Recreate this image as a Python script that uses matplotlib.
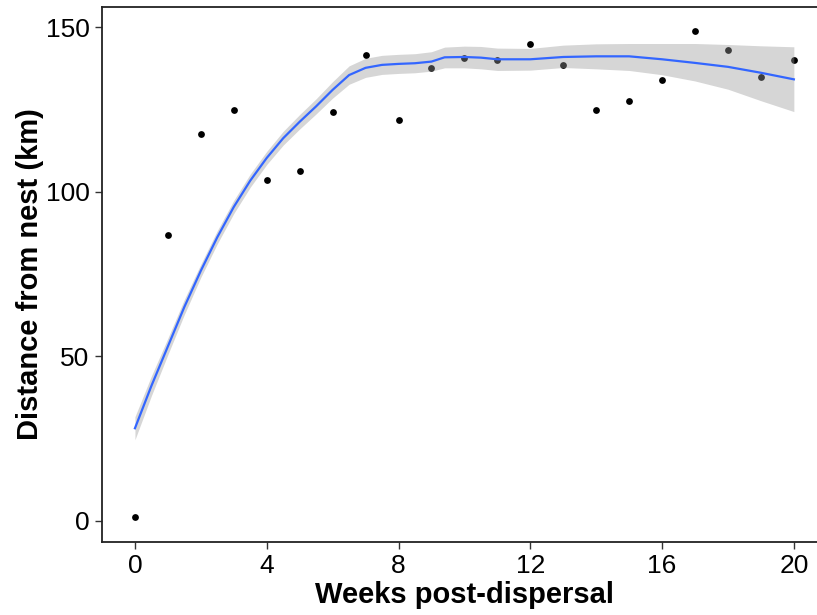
import matplotlib
matplotlib.use("Agg")
import matplotlib.pyplot as plt
import numpy as np

plt.rcParams['font.family'] = ['Liberation Sans', 'DejaVu Sans']

# weekly points
weeks = np.arange(0, 21)
distance_km = np.array([1.1, 86.8, 117.7, 124.9, 103.7, 106.3, 124.2, 141.5, 121.8, 137.7,
                        140.8, 140.0, 144.8, 138.5, 124.9, 127.5, 133.9, 149.0, 143.0, 135.0,
                        140.0])

# smoother: fit and 95% band
smooth_week = [0, 0.5, 1, 1.5, 2, 2.5, 3, 3.5, 4, 4.5, 5, 5.5, 6, 6.5, 7, 7.5, 8, 8.5,
               9, 9.4, 10, 10.5, 11, 12, 13, 14, 15, 16, 17, 18, 19, 20]
smooth_fit = [28.1, 41.0, 53.0, 65.0, 76.0, 86.2, 95.4, 103.4, 110.3, 116.3, 121.3, 126.0,
              131.0, 135.5, 137.7, 138.6, 138.9, 139.1, 139.6, 140.9, 141.0, 140.8, 140.3,
              140.3, 141.0, 141.2, 141.2, 140.3, 139.2, 138.0, 136.2, 134.2]
smooth_lo = [24.6, 38.0, 50.5, 62.7, 74.0, 84.2, 93.4, 101.4, 108.3, 114.2, 119.1, 123.7,
             128.5, 132.7, 134.8, 135.7, 136.0, 136.2, 136.7, 137.7, 137.7, 137.4, 136.9,
             137.0, 137.8, 137.4, 136.9, 135.6, 133.7, 131.2, 127.7, 124.4]
smooth_hi = [31.6, 44.0, 55.5, 67.3, 78.0, 88.2, 97.4, 105.4, 112.3, 118.4, 123.5, 128.3,
             133.5, 138.3, 140.6, 141.5, 141.8, 142.0, 142.6, 144.0, 144.3, 144.2, 143.7,
             143.6, 144.6, 145.0, 145.1, 145.1, 145.1, 144.8, 144.4, 144.1]

fig = plt.figure(figsize=(8.17, 6.15), dpi=100)
ax = fig.add_axes([102 / 817, (615 - 541.7) / 615, (826.8 - 102) / 817, (541.7 - 7) / 615])

ax.scatter(weeks, distance_km, s=24, color='black', zorder=2, linewidths=0)
ax.fill_between(smooth_week, smooth_lo, smooth_hi, color='#999999', alpha=0.4,
                linewidth=0, zorder=3)
ax.plot(smooth_week, smooth_fit, color='#3366FF', lw=1.6, zorder=4)

ax.set_xlim(-1, 21)
ax.set_ylim(-6.4, 156.2)
ax.set_xticks([0, 4, 8, 12, 16, 20])
ax.set_yticks([0, 50, 100, 150])
ax.tick_params(labelsize=19, length=5, width=1, color='#333333', labelcolor='black', pad=4)
for s in ax.spines.values():
    s.set_linewidth(1.3)
    s.set_color('#222222')

ax.set_xlabel('Weeks post-dispersal', fontsize=21, fontweight='bold', labelpad=2)
ax.set_ylabel('Distance from nest (km)', fontsize=21, fontweight='bold', labelpad=1)

fig.savefig('out.png', dpi=100)
